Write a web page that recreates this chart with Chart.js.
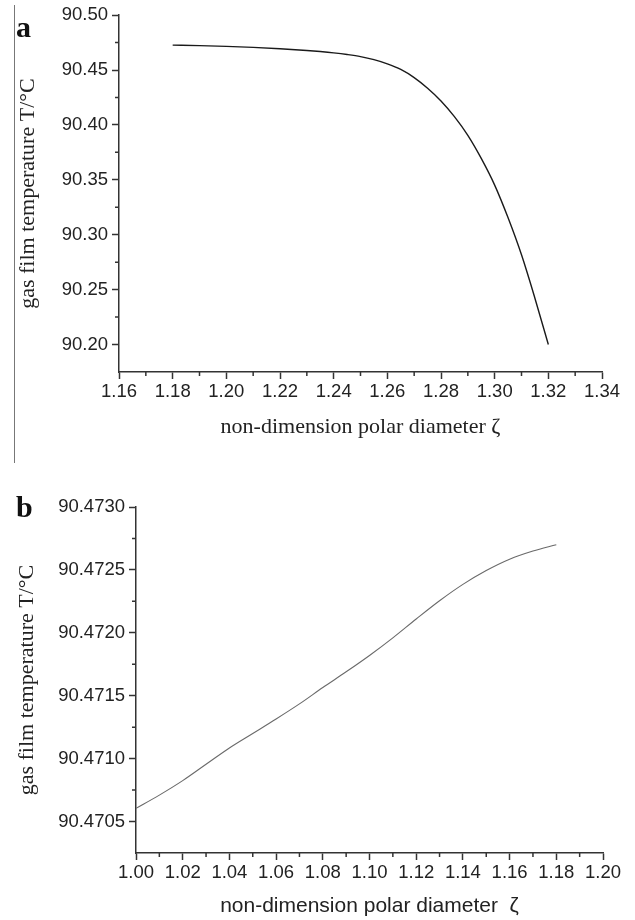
<!DOCTYPE html>
<html>
<head>
<meta charset="utf-8">
<script src="https://cdn.jsdelivr.net/npm/chart.js@4.4.1/dist/chart.umd.min.js"></script>
<style>
  body { margin: 0; background: #fff; }
  #page { position: relative; width: 635px; height: 920px; }
  .panel { position: absolute; left: 0; width: 635px; height: 460px; }
  #edge { position: absolute; left: 14px; top: 5px; width: 1px; height: 458px; background: #777; }
  .tag { position: absolute; left: 16px; font: bold 30px "Liberation Serif", serif; color: #111; }
</style>
</head>
<body>
<div id="page">
  <div class="panel" style="top:0"><canvas id="chartA" width="635" height="460"></canvas></div>
  <div class="panel" style="top:460px"><canvas id="chartB" width="635" height="460"></canvas></div>
  <div id="edge"></div>
  <div class="tag" style="top:10px">a</div>
  <div class="tag" style="top:490px">b</div>
</div>
<script>
// panel a: temperature vs polar diameter (1.18 - 1.32)
const zetaA = [1.18, 1.19, 1.20, 1.21, 1.22, 1.23, 1.235, 1.24, 1.245, 1.25, 1.255, 1.26,
               1.265, 1.27, 1.275, 1.28, 1.285, 1.29, 1.295, 1.30, 1.305, 1.31, 1.315, 1.32];
const tempA = [90.4727, 90.4722, 90.4715, 90.4706, 90.4694, 90.4678, 90.4668, 90.4656, 90.4641, 90.4622, 90.4594, 90.4556,
               90.4505, 90.4431, 90.4334, 90.4218, 90.4075, 90.3905, 90.3695, 90.3452, 90.3154, 90.2817, 90.2422, 90.2000];
const xTicksA = [1.16, 1.18, 1.20, 1.22, 1.24, 1.26, 1.28, 1.30, 1.32, 1.34];
const xMinorA = [1.17, 1.19, 1.21, 1.23, 1.25, 1.27, 1.29, 1.31, 1.33];
const yTicksA = [90.20, 90.25, 90.30, 90.35, 90.40, 90.45, 90.50];
const yMinorA = [90.225, 90.275, 90.325, 90.375, 90.425, 90.475];

// panel b: temperature vs polar diameter (1.00 - 1.18)
const zetaB = [1.00, 1.01, 1.02, 1.03, 1.04, 1.05, 1.06, 1.07, 1.08, 1.09,
               1.10, 1.11, 1.12, 1.13, 1.14, 1.15, 1.16, 1.17, 1.18];
const tempB = [90.470605, 90.47071, 90.470825, 90.470955, 90.471085, 90.4712, 90.471315, 90.471435, 90.471565, 90.47169,
               90.47182, 90.47196, 90.47211, 90.472255, 90.472385, 90.472495, 90.472585, 90.47265, 90.4727];
const xTicksB = [1.00, 1.02, 1.04, 1.06, 1.08, 1.10, 1.12, 1.14, 1.16, 1.18, 1.20];
const xMinorB = [1.01, 1.03, 1.05, 1.07, 1.09, 1.11, 1.13, 1.15, 1.17, 1.19];
const yTicksB = [90.4705, 90.4710, 90.4715, 90.4720, 90.4725, 90.4730];
const yMinorB = [90.47075, 90.47125, 90.47175, 90.47225, 90.47275];

const axisColor = '#333';
const tickFont = { family: '"Liberation Sans", Arial, sans-serif', size: 18.5 };
const serifTitle = { family: '"Liberation Serif", "Times New Roman", serif', size: 22 };

// small outward minor ticks, placed through the chart's own scales
const minorTicks = {
    id: 'minorTicks',
    afterDraw(chart, args, opts) {
        const c = chart.ctx;
        const x = chart.scales.x, y = chart.scales.y;
        c.save();
        c.strokeStyle = axisColor;
        c.lineWidth = 1.5;
        c.beginPath();
        opts.x.forEach(v => {
            const px = x.getPixelForValue(v);
            c.moveTo(px, x.top);
            c.lineTo(px, x.top + 4);
        });
        opts.y.forEach(v => {
            const py = y.getPixelForValue(v);
            c.moveTo(y.right, py);
            c.lineTo(y.right - 4, py);
        });
        c.stroke();
        c.restore();
    }
};

function makeChart(id, cfg) {
    return new Chart(document.getElementById(id), {
        type: 'line',
        data: {
            datasets: [{
                data: cfg.xs.map((v, i) => ({ x: v, y: cfg.ys[i] })),
                borderColor: cfg.lineColor,
                borderWidth: cfg.lineWidth,
                pointRadius: 0,
                cubicInterpolationMode: 'monotone',
                fill: false
            }]
        },
        options: {
            responsive: false,
            animation: false,
            events: [],
            layout: { padding: cfg.padding },
            plugins: {
                legend: { display: false },
                tooltip: { enabled: false },
                minorTicks: { x: cfg.xMinor, y: cfg.yMinor }
            },
            scales: {
                x: {
                    type: 'linear',
                    min: cfg.xTicks[0],
                    max: cfg.xTicks[cfg.xTicks.length - 1],
                    afterBuildTicks: s => { s.ticks = cfg.xTicks.map(v => ({ value: v })); },
                    afterFit: s => { s.height = cfg.xHeight; },
                    grid: { drawOnChartArea: false, drawTicks: true, tickLength: 7, tickWidth: 1.5, tickColor: axisColor },
                    border: { color: axisColor, width: 1.5 },
                    ticks: {
                        font: tickFont, color: '#222', padding: 2, maxRotation: 0, autoSkip: false,
                        callback: v => v.toFixed(2)
                    },
                    title: {
                        display: true, text: cfg.xTitle, font: cfg.xTitleFont, color: '#222',
                        padding: { top: 0, bottom: cfg.xTitlePad }
                    }
                },
                y: {
                    type: 'linear',
                    min: cfg.yMin,
                    max: cfg.yTicks[cfg.yTicks.length - 1],
                    afterBuildTicks: s => { s.ticks = cfg.yTicks.map(v => ({ value: v })); },
                    afterFit: s => { s.width = cfg.yWidth; },
                    grid: { drawOnChartArea: false, drawTicks: true, tickLength: 7, tickWidth: 1.5, tickColor: axisColor },
                    border: { color: axisColor, width: 1.5 },
                    ticks: {
                        font: tickFont, color: '#222', padding: 4, autoSkip: false,
                        callback: v => v.toFixed(cfg.yDigits)
                    },
                    title: {
                        display: true, text: 'gas film temperature T/°C', font: serifTitle, color: '#222',
                        padding: { top: cfg.yTitlePad, bottom: 0 }
                    }
                }
            }
        },
        plugins: [minorTicks]
    });
}

makeChart('chartA', {
    xs: zetaA, ys: tempA, lineColor: '#1a1a1a', lineWidth: 1.4,
    xTicks: xTicksA, xMinor: xMinorA, yTicks: yTicksA, yMinor: yMinorA,
    yMin: 90.175, yDigits: 2,
    padding: { left: 0, top: 15, right: 33, bottom: 0 },
    yWidth: 119, xHeight: 88,
    xTitle: 'non-dimension polar diameter ζ', xTitleFont: serifTitle, xTitlePad: 20,
    yTitlePad: 15
});

makeChart('chartB', {
    xs: zetaB, ys: tempB, lineColor: '#6a6a6a', lineWidth: 1.1,
    xTicks: xTicksB, xMinor: xMinorB, yTicks: yTicksB, yMinor: yMinorB,
    yMin: 90.47025, yDigits: 4,
    padding: { left: 0, top: 47, right: 32, bottom: 0 },
    yWidth: 136, xHeight: 67,
    xTitle: 'non-dimension polar diameter  ζ',
    xTitleFont: { family: '"Liberation Sans", Arial, sans-serif', size: 21 }, xTitlePad: 1,
    yTitlePad: 14
});
</script>
</body>
</html>
